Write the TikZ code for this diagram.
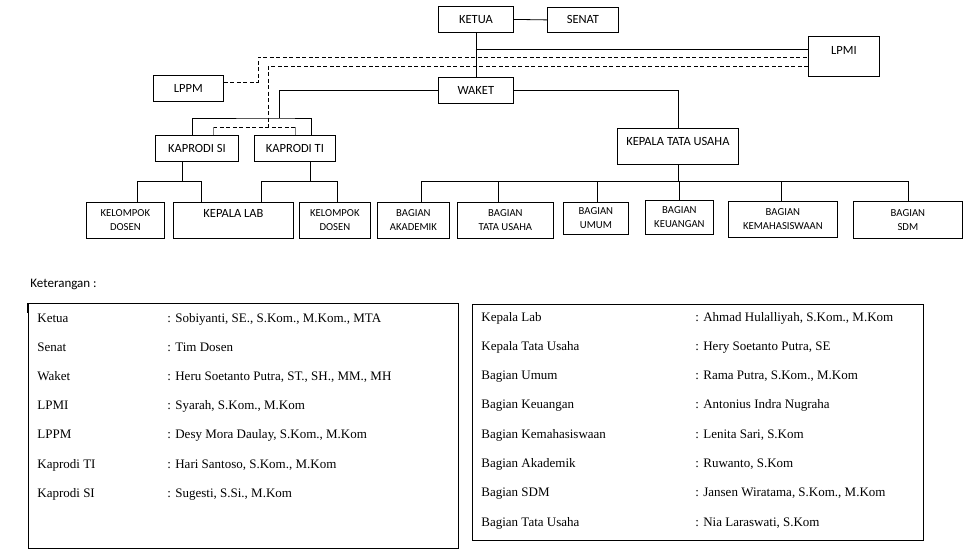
\documentclass[tikz,border=0pt]{standalone}
\usepackage{fontspec}
\setmainfont{Liberation Serif}
\newfontfamily\chartfont{Carlito}
\usepackage{tikz}
\usetikzlibrary{calc}
\usetikzlibrary{positioning}
\newcommand{\lift}[2]{\raisebox{#1pt}[\height][\depth]{#2}}
\tikzset{
  unit/.style={draw, inner sep=0pt, anchor=north west, align=center, font=\chartfont\fontsize{12.5}{15}\selectfont},
  subunit/.style={unit, font=\chartfont\fontsize{10.7}{14}\selectfont},
  dashline/.style={dash pattern=on 4pt off 2.5pt},
  names/.style={anchor=base west, inner sep=0pt, font=\fontsize{13}{15}\selectfont},
}

\begin{document}
\begin{tikzpicture}[x=1pt,y=1pt,yscale=-1,line width=0.8pt]
  \useasboundingbox (0,0) rectangle (977,550);

  % Units, top part
  \node[unit, minimum width=75, minimum height=26] (ketua) at (438,6) {KETUA};
  \node[unit, minimum width=71, minimum height=25] (senat) at (547,7) {SENAT};
  \node[unit, minimum width=71, minimum height=40] (lpmi) at (808,36) {\lift{6}{LPMI}};
  \node[unit, minimum width=70, minimum height=26] (lppm) at (153,75) {LPPM};
  \node[unit, minimum width=75, minimum height=26] (waket) at (438,77) {WAKET};
  \node[unit, minimum width=83, minimum height=26] (ksi) at (155,135) {KAPRODI SI};
  \node[unit, minimum width=81, minimum height=26] (kti) at (254,135) {KAPRODI TI};
  \node[unit, minimum width=121, minimum height=36] (ktu) at (617,128) {\lift{5}{KEPALA TATA USAHA}};

  % Units, bottom row
  \node[subunit, minimum width=78, minimum height=36] (kd1) at (86,202) {KELOMPOK\\DOSEN};
  \node[unit, minimum width=120, minimum height=36] (klab) at (173,202) {\lift{7}{KEPALA LAB}};
  \node[subunit, minimum width=71, minimum height=36] (kd2) at (299,202) {KELOMPOK\\DOSEN};
  \node[subunit, minimum width=72, minimum height=36] (akd) at (377,202) {BAGIAN\\AKADEMIK};
  \node[subunit, minimum width=96, minimum height=36] (tu) at (457,202) {BAGIAN\\TATA USAHA};
  \node[subunit, minimum width=65, minimum height=32] (umum) at (563,202) {BAGIAN\\UMUM};
  \node[subunit, minimum width=68, minimum height=34] (keu) at (645,200) {BAGIAN\\KEUANGAN};
  \node[subunit, minimum width=109, minimum height=36] (kmh) at (728,201) {BAGIAN\\KEMAHASISWAAN};
  \node[subunit, minimum width=109, minimum height=37] (sdm) at (853,201) {BAGIAN\\SDM};

  % Solid lines
  \draw (ketua.east) -- (senat.west);
  \draw (ketua.south) -- (waket.north);
  \draw (ketua.south |- 0,49) -- (lpmi.west |- 0,49);
  \coordinate (kp) at (279,118);
  \draw (waket.west) -| (kp);
  \draw ([xshift=-4.5]ksi.north) |- (kp) -| ([xshift=16.5]kti.north);
  \draw (waket.east) -| (ktu.north);

  % Dashed lines
  \coordinate (d1) at (258,57);
  \coordinate (d2) at (268,66);
  \coordinate (d3) at (268,127);
  \draw[dashline] ([yshift=-6]lppm.east) -| (d1) -- (d1 -| lpmi.west);
  \draw[dashline] (d2 -| lpmi.west) -- (d2) -- (d3);
  \draw[dashline] ([xshift=16.5]ksi.north |- d3) -- (kti.north |- d3);
  \draw[gray] ([xshift=16.5]ksi.north) -- ([xshift=16.5]ksi.north |- d3);
  \draw[gray] (kti.north) -- (kti.north |- d3);

  % Kaprodi branches
  \draw ([xshift=-14.5]ksi.south) -- ++(0,20);
  \draw ([xshift=12]kd1.north) -- ++(0,-21) -| ([xshift=-32]klab.north);
  \draw ([xshift=15.5]kti.south) -- ++(0,20);
  \draw ([xshift=28]klab.north) -- ++(0,-21) -| ([xshift=2.5]kd2.north);

  % Tata usaha branches
  \draw (ktu.south) -- ++(0,17);
  \draw ([xshift=8]akd.north) -- ++(0,-21) -| (sdm.north);
  \draw ([xshift=-7]tu.north) -- ++(0,-21);
  \draw ([xshift=1.5]umum.north) -- ++(0,-21);
  \draw (keu.north) -- ++(0,-19);
  \draw ([xshift=-1.5]kmh.north) -- ++(0,-20);

  % Keterangan
  \node[anchor=west, inner sep=0pt, font=\chartfont\fontsize{13}{15}\selectfont] (ket) at (30,284) {Keterangan :};
  \draw (28,303) rectangle (458,548);
  \draw[line width=2] (28,303) -- (28,313);
  \draw (472,304) rectangle (923,540);

  % Left list
  \node[names] (n1) at (37,322.5) {Ketua};
  \node[names] (p1) at (167,322.5) {: Sobiyanti, SE., S.Kom., M.Kom., MTA};
  \node[names] (n2) at (37,351.6) {Senat};
  \node[names] (p2) at (167,351.6) {: Tim Dosen};
  \node[names] (n3) at (37,380.7) {Waket};
  \node[names] (p3) at (167,380.7) {: Heru Soetanto Putra, ST., SH., MM., MH};
  \node[names] (n4) at (37,409.8) {LPMI};
  \node[names] (p4) at (167,409.8) {: Syarah, S.Kom., M.Kom};
  \node[names] (n5) at (37,438.9) {LPPM};
  \node[names] (p5) at (167,438.9) {: Desy Mora Daulay, S.Kom., M.Kom};
  \node[names] (n6) at (37,468) {Kaprodi TI};
  \node[names] (p6) at (167,468) {: Hari Santoso, S.Kom., M.Kom};
  \node[names] (n7) at (37,497.1) {Kaprodi SI};
  \node[names] (p7) at (167,497.1) {: Sugesti, S.Si., M.Kom};

  % Right list
  \node[names] (m1) at (481,321) {Kepala Lab};
  \node[names] (q1) at (695,321) {: Ahmad Hulalliyah, S.Kom., M.Kom};
  \node[names] (m2) at (481,350.3) {Kepala Tata Usaha};
  \node[names] (q2) at (695,350.3) {: Hery Soetanto Putra, SE};
  \node[names] (m3) at (481,379.6) {Bagian Umum};
  \node[names] (q3) at (695,379.6) {: Rama Putra, S.Kom., M.Kom};
  \node[names] (m4) at (481,408.9) {Bagian Keuangan};
  \node[names] (q4) at (695,408.9) {: Antonius Indra Nugraha};
  \node[names] (m5) at (481,438.2) {Bagian Kemahasiswaan};
  \node[names] (q5) at (695,438.2) {: Lenita Sari, S.Kom};
  \node[names] (m6) at (481,467.5) {Bagian Akademik};
  \node[names] (q6) at (695,467.5) {: Ruwanto, S.Kom};
  \node[names] (m7) at (481,496.8) {Bagian SDM};
  \node[names] (q7) at (695,496.8) {: Jansen Wiratama, S.Kom., M.Kom};
  \node[names] (m8) at (481,526.1) {Bagian Tata Usaha};
  \node[names] (q8) at (695,526.1) {: Nia Laraswati, S.Kom};
\end{tikzpicture}
\end{document}
